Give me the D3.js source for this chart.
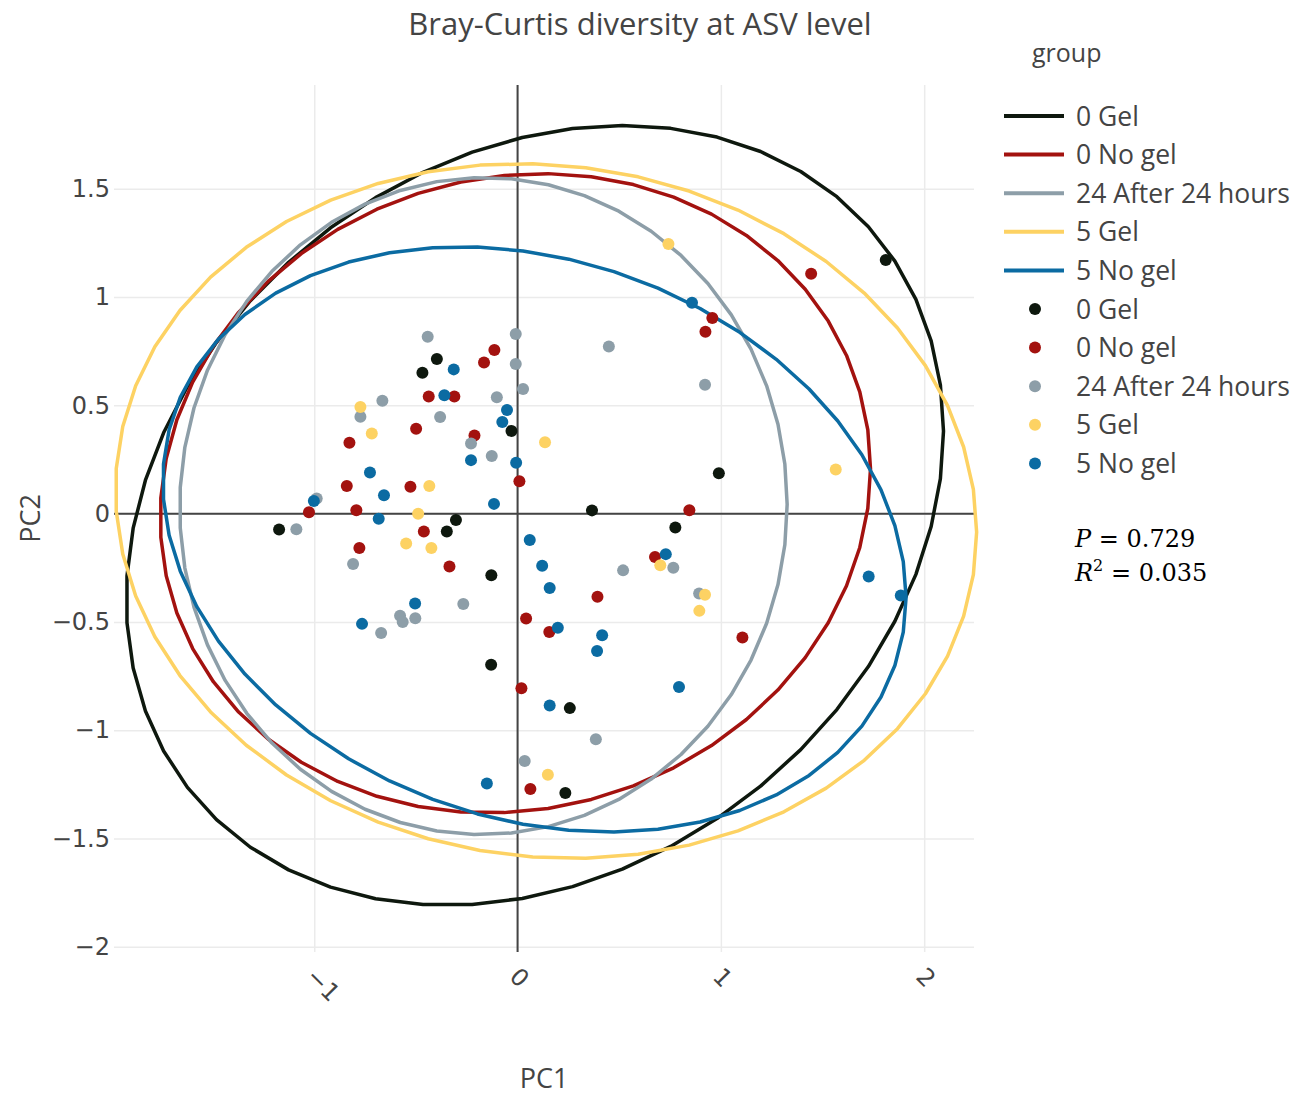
<!DOCTYPE html>
<html>
<head>
<meta charset="utf-8">
<script src="https://cdn.jsdelivr.net/npm/d3@7"></script>
<style>
  body { margin: 0; background: #fff; }
</style>
</head>
<body>
<svg id="chart" width="1309" height="1096"></svg>
<script>
// groups and colours, in trace order
const groups = ["0 Gel", "0 No gel", "24 After 24 hours", "5 Gel", "5 No gel"];
const colors = ["#0e180e", "#a3120f", "#8d9ea8", "#fdd263", "#0b6ba2"];

// PCoA scores
const gel0PC1 = [-0.397, -0.468, -0.030, -0.303, -0.348, -1.173, -0.129, 0.990, 0.366, 0.776, -0.130, 0.257, 0.235, 1.811];
const gel0PC2 = [0.714, 0.650, 0.382, -0.029, -0.082, -0.073, -0.284, 0.186, 0.015, -0.064, -0.698, -0.898, -1.290, 1.171];

const noGel0PC1 = [-0.114, -0.165, -0.437, -0.311, -0.499, -0.827, -0.212, 0.009, -0.840, -0.527, -1.026, -0.793, -0.461,
  -0.778, -0.335, 0.042, 0.958, 0.924, 0.845, 0.676, 0.393, 0.156, 1.106, 0.019, 0.063, 1.444];
const noGel0PC2 = [0.755, 0.698, 0.541, 0.541, 0.392, 0.327, 0.361, 0.150, 0.128, 0.124, 0.006, 0.016, -0.082,
  -0.159, -0.244, -0.484, 0.903, 0.840, 0.016, -0.200, -0.384, -0.546, -0.572, -0.806, -1.271, 1.108];

const after24PC1 = [-0.442, -0.009, -0.009, 0.027, -0.102, -0.665, -0.773, -0.381, -0.229, -0.127, -0.988, -1.088, -0.809,
  -0.267, -0.578, -0.565, -0.503, -0.671, 0.449, 0.922, 0.766, 0.519, 0.893, 0.385, 0.035];
const after24PC2 = [0.817, 0.829, 0.691, 0.575, 0.537, 0.521, 0.447, 0.446, 0.324, 0.266, 0.070, -0.072, -0.233,
  -0.417, -0.472, -0.500, -0.483, -0.551, 0.772, 0.595, -0.250, -0.262, -0.369, -1.042, -1.142];

const gel5PC1 = [-0.773, -0.717, -0.434, -0.489, -0.548, -0.424, 0.135, 0.702, 0.922, 0.894, 0.149, 0.742, 1.565];
const gel5PC2 = [0.492, 0.370, 0.128, -0.001, -0.138, -0.159, 0.330, -0.238, -0.375, -0.449, -1.206, 1.245, 0.204];

const noGel5PC1 = [-0.314, -0.360, -0.052, -0.075, -0.229, -0.007, -0.726, -0.657, -0.116, -1.002, -0.683, 0.060, -0.504,
  -0.765, 0.858, 0.729, 0.121, 0.158, 0.198, 0.416, 0.391, 0.794, 0.158, -0.151, 1.727, 1.885];
const noGel5PC2 = [0.666, 0.547, 0.478, 0.423, 0.247, 0.235, 0.190, 0.085, 0.045, 0.058, -0.024, -0.122, -0.415,
  -0.509, 0.974, -0.187, -0.241, -0.343, -0.527, -0.561, -0.634, -0.800, -0.886, -1.246, -0.290, -0.378];

const groupPC1 = [gel0PC1, noGel0PC1, after24PC1, gel5PC1, noGel5PC1];
const groupPC2 = [gel0PC2, noGel0PC2, after24PC2, gel5PC2, noGel5PC2];

// confidence ellipses: centre, half extents and correlation, per group
const ellipseCX  = [0.085, -0.011, -0.168, 0.140, 0.083];
const ellipseCY  = [-0.008, 0.094, 0.035, 0.012, -0.119];
const ellipseRX  = [2.010, 1.747, 1.494, 2.118, 1.828];
const ellipseRY  = [1.800, 1.476, 1.517, 1.604, 1.351];
const ellipseRho = [0.216, 0.076, 0.005, -0.061, -0.198];

const xTicks = [-1, 0, 1, 2];
const yTicks = [-2, -1.5, -1, -0.5, 0, 0.5, 1, 1.5];

const pValue = "0.729";
const r2Value = "0.035";

const svg = d3.select("#chart");
const plot = { left: 114, right: 974, top: 85, bottom: 952 };
const textColor = "#444";
const tickFont = "'DejaVu Sans', Verdana, sans-serif";
const mainFont = "'Open Sans', sans-serif";

const x = d3.scaleLinear().domain([-1.985, 2.245]).range([plot.left, plot.right]);
const y = d3.scaleLinear().domain([-2.024, 1.979]).range([plot.bottom, plot.top]);

// grid + ticks
const yAxis = svg.append("g")
  .attr("transform", `translate(${plot.left},0)`)
  .call(d3.axisLeft(y).tickValues(yTicks).tickFormat(d3.format("~g"))
    .tickSize(-(plot.right - plot.left)).tickPadding(4));
yAxis.select(".domain").remove();
yAxis.selectAll(".tick line").attr("stroke", "#ebebeb").attr("stroke-width", 1.5);
yAxis.selectAll(".tick text").attr("fill", textColor)
  .style("font-family", tickFont).style("font-size", "24px");

const xAxis = svg.append("g")
  .attr("transform", `translate(0,${plot.bottom})`)
  .call(d3.axisBottom(x).tickValues(xTicks).tickFormat(d3.format("~g"))
    .tickSize(-(plot.bottom - plot.top)));
xAxis.select(".domain").remove();
xAxis.selectAll(".tick line").attr("stroke", "#ebebeb").attr("stroke-width", 1.5);
xAxis.selectAll(".tick text")
  .attr("fill", textColor)
  .style("font-family", tickFont).style("font-size", "24px")
  .attr("text-anchor", "start")
  .attr("y", 0).attr("dy", "0.35em")
  .attr("transform", "translate(-4,20) rotate(45)");

// zero lines
svg.append("line")
  .attr("x1", x(0)).attr("x2", x(0)).attr("y1", plot.top).attr("y2", plot.bottom)
  .attr("stroke", "#444").attr("stroke-width", 2);
svg.append("line")
  .attr("x1", plot.left).attr("x2", plot.right).attr("y1", y(0)).attr("y2", y(0))
  .attr("stroke", "#444").attr("stroke-width", 2);

// ellipses (51 segments, like stat_ellipse)
const seg = 51;
const ellipseLine = d3.line().x(d => x(d[0])).y(d => y(d[1])).curve(d3.curveLinearClosed);
groups.forEach((g, i) => {
  const pts = d3.range(seg).map(k => {
    const t = 2 * Math.PI * k / seg;
    const rho = ellipseRho[i];
    return [
      ellipseCX[i] + ellipseRX[i] * Math.cos(t),
      ellipseCY[i] + ellipseRY[i] * (rho * Math.cos(t) + Math.sqrt(1 - rho * rho) * Math.sin(t))
    ];
  });
  svg.append("path")
    .attr("d", ellipseLine(pts))
    .attr("fill", "none")
    .attr("stroke", colors[i])
    .attr("stroke-width", 3.5)
    .attr("stroke-linejoin", "round");
});

// points
groups.forEach((g, i) => {
  svg.append("g").selectAll("circle")
    .data(d3.zip(groupPC1[i], groupPC2[i]))
    .join("circle")
    .attr("cx", d => x(d[0]))
    .attr("cy", d => y(d[1]))
    .attr("r", 6)
    .attr("fill", colors[i]);
});

// title and axis titles
svg.append("text")
  .attr("x", 640).attr("y", 35)
  .attr("text-anchor", "middle")
  .attr("fill", textColor)
  .style("font-family", mainFont).style("font-size", "31px")
  .text("Bray-Curtis diversity at ASV level");

svg.append("text")
  .attr("x", (plot.left + plot.right) / 2).attr("y", 1088)
  .attr("text-anchor", "middle")
  .attr("fill", textColor)
  .style("font-family", mainFont).style("font-size", "27px")
  .text("PC1");

svg.append("text")
  .attr("transform", `translate(40,${(plot.top + plot.bottom) / 2}) rotate(-90)`)
  .attr("text-anchor", "middle")
  .attr("fill", textColor)
  .style("font-family", mainFont).style("font-size", "27px")
  .text("PC2");

// legend
const legend = svg.append("g");
legend.append("text")
  .attr("x", 1032).attr("y", 62)
  .attr("fill", textColor)
  .style("font-family", mainFont).style("font-size", "25px")
  .text("group");

const rowY = i => 116 + 38.6 * i;
groups.forEach((g, i) => {
  const yy = rowY(i);
  legend.append("line")
    .attr("x1", 1004).attr("x2", 1064).attr("y1", yy).attr("y2", yy)
    .attr("stroke", colors[i]).attr("stroke-width", 4);
  legend.append("text")
    .attr("x", 1076).attr("y", yy).attr("dy", "0.36em")
    .attr("fill", textColor)
    .style("font-family", mainFont).style("font-size", "26.5px")
    .text(g);
});
groups.forEach((g, i) => {
  const yy = rowY(i + 5);
  legend.append("circle")
    .attr("cx", 1035).attr("cy", yy).attr("r", 6)
    .attr("fill", colors[i]);
  legend.append("text")
    .attr("x", 1076).attr("y", yy).attr("dy", "0.36em")
    .attr("fill", textColor)
    .style("font-family", mainFont).style("font-size", "26.5px")
    .text(g);
});

// PERMANOVA annotation
const serif = "'DejaVu Serif', serif";
const pText = svg.append("text")
  .attr("x", 1075).attr("y", 547)
  .attr("fill", "#000")
  .style("font-family", serif).style("font-size", "24px");
pText.append("tspan").style("font-style", "italic").text("P");
pText.append("tspan").text(" = " + pValue);

const rText = svg.append("text")
  .attr("x", 1075).attr("y", 581)
  .attr("fill", "#000")
  .style("font-family", serif).style("font-size", "24px");
rText.append("tspan").style("font-style", "italic").text("R");
rText.append("tspan").attr("dy", -10).style("font-size", "16px").text("2");
rText.append("tspan").attr("dy", 10).text(" = " + r2Value);
</script>
</body>
</html>
